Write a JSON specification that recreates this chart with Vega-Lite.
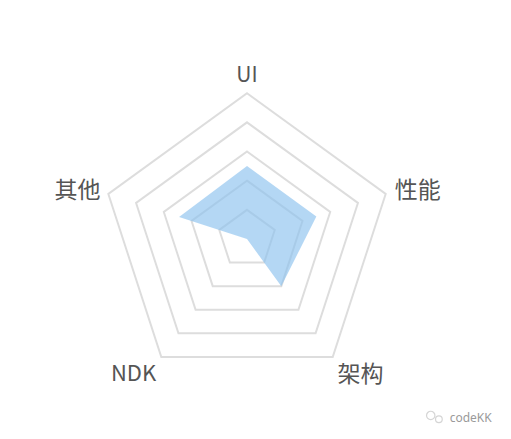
{
  "$schema": "https://vega.github.io/schema/vega-lite/v6.json",
  "width": 511,
  "height": 439,
  "autosize": "none",
  "padding": 0,
  "background": "white",
  "config": {"view": {"stroke": null}},
  "datasets": {
    "grid": [
      {"level": 1, "idx": 0}, {"level": 1, "idx": 1}, {"level": 1, "idx": 2}, {"level": 1, "idx": 3}, {"level": 1, "idx": 4},
      {"level": 2, "idx": 0}, {"level": 2, "idx": 1}, {"level": 2, "idx": 2}, {"level": 2, "idx": 3}, {"level": 2, "idx": 4},
      {"level": 3, "idx": 0}, {"level": 3, "idx": 1}, {"level": 3, "idx": 2}, {"level": 3, "idx": 3}, {"level": 3, "idx": 4},
      {"level": 4, "idx": 0}, {"level": 4, "idx": 1}, {"level": 4, "idx": 2}, {"level": 4, "idx": 3}, {"level": 4, "idx": 4},
      {"level": 5, "idx": 0}, {"level": 5, "idx": 1}, {"level": 5, "idx": 2}, {"level": 5, "idx": 3}, {"level": 5, "idx": 4}
    ],
    "scores": [
      {"axis": "UI", "idx": 0, "value": 2.5},
      {"axis": "性能", "idx": 1, "value": 2.5},
      {"axis": "架构", "idx": 2, "value": 2.0},
      {"axis": "NDK", "idx": 3, "value": 0.0},
      {"axis": "其他", "idx": 4, "value": 2.45}
    ],
    "mark": [{"label": "codeKK", "px": 6.95, "py": -6.15}],
    "icon": [{"px": 6.3, "py": -6.05, "s": 70}, {"px": 6.58, "py": -6.18, "s": 45}]
  },
  "encoding": {
    "x": {"field": "x", "type": "quantitative", "axis": null, "scale": {"domain": [-8.471, 9.053], "nice": false, "zero": false}},
    "y": {"field": "y", "type": "quantitative", "axis": null, "scale": {"domain": [-6.859, 8.196], "nice": false, "zero": false}}
  },
  "layer": [
    {
      "data": {"name": "grid"},
      "transform": [
        {"calculate": "PI/2 - datum.idx*2*PI/5", "as": "a"},
        {"calculate": "datum.level*cos(datum.a)", "as": "x"},
        {"calculate": "datum.level*sin(datum.a)", "as": "y"}
      ],
      "mark": {"type": "line", "interpolate": "linear-closed", "stroke": "#dddddd", "strokeWidth": 2},
      "encoding": {
        "detail": {"field": "level"},
        "order": {"field": "idx", "type": "quantitative"}
      }
    },
    {
      "data": {"name": "scores"},
      "transform": [
        {"calculate": "PI/2 - datum.idx*2*PI/5", "as": "a"},
        {"calculate": "datum.value*cos(datum.a)", "as": "x"},
        {"calculate": "datum.value*sin(datum.a)", "as": "y"}
      ],
      "mark": {"type": "line", "interpolate": "linear-closed", "fill": "#8cc2ee", "fillOpacity": 0.65, "strokeWidth": 0, "stroke": "#8cc2ee", "strokeOpacity": 0},
      "encoding": {
        "order": {"field": "idx", "type": "quantitative"}
      }
    },
    {
      "data": {"name": "scores"},
      "transform": [
        {"filter": "datum.axis === 'UI'"},
        {"calculate": "PI/2 - datum.idx*2*PI/5", "as": "a"},
        {"calculate": "5.4*cos(datum.a)", "as": "x"},
        {"calculate": "5.4*sin(datum.a)", "as": "y"}
      ],
      "mark": {"type": "text", "align": "center", "baseline": "alphabetic", "font": "Noto Sans CJK SC", "fontSize": 21, "color": "#555555"},
      "encoding": {"text": {"field": "axis"}}
    },
    {
      "data": {"name": "scores"},
      "transform": [
        {"filter": "datum.axis === '性能'"},
        {"calculate": "PI/2 - datum.idx*2*PI/5", "as": "a"},
        {"calculate": "5.33*cos(datum.a)", "as": "x"},
        {"calculate": "5.33*sin(datum.a)", "as": "y"}
      ],
      "mark": {"type": "text", "align": "left", "baseline": "middle", "font": "Noto Sans CJK SC", "fontSize": 23, "color": "#555555"},
      "encoding": {"text": {"field": "axis"}}
    },
    {
      "data": {"name": "scores"},
      "transform": [
        {"filter": "datum.axis === '其他'"},
        {"calculate": "PI/2 - datum.idx*2*PI/5", "as": "a"},
        {"calculate": "5.28*cos(datum.a)", "as": "x"},
        {"calculate": "5.28*sin(datum.a)", "as": "y"}
      ],
      "mark": {"type": "text", "align": "right", "baseline": "middle", "font": "Noto Sans CJK SC", "fontSize": 23, "color": "#555555"},
      "encoding": {"text": {"field": "axis"}}
    },
    {
      "data": {"name": "scores"},
      "transform": [
        {"filter": "datum.axis === '架构'"},
        {"calculate": "PI/2 - datum.idx*2*PI/5", "as": "a"},
        {"calculate": "5.28*cos(datum.a)", "as": "x"},
        {"calculate": "5.28*sin(datum.a)", "as": "y"}
      ],
      "mark": {"type": "text", "align": "left", "baseline": "top", "font": "Noto Sans CJK SC", "fontSize": 23, "color": "#555555"},
      "encoding": {"text": {"field": "axis"}}
    },
    {
      "data": {"name": "scores"},
      "transform": [
        {"filter": "datum.axis === 'NDK'"},
        {"calculate": "PI/2 - datum.idx*2*PI/5", "as": "a"},
        {"calculate": "5.3*cos(datum.a)", "as": "x"},
        {"calculate": "5.3*sin(datum.a)", "as": "y"}
      ],
      "mark": {"type": "text", "align": "right", "baseline": "top", "font": "Noto Sans CJK SC", "fontSize": 22, "color": "#555555"},
      "encoding": {"text": {"field": "axis"}}
    },
    {
      "data": {"name": "icon"},
      "transform": [
        {"calculate": "datum.px", "as": "x"},
        {"calculate": "datum.py", "as": "y"}
      ],
      "mark": {"type": "point", "shape": "circle", "filled": false, "stroke": "#c4c4c4", "strokeWidth": 1.2},
      "encoding": {"size": {"field": "s", "type": "quantitative", "scale": null}}
    },
    {
      "data": {"name": "mark"},
      "transform": [
        {"calculate": "datum.px", "as": "x"},
        {"calculate": "datum.py", "as": "y"}
      ],
      "mark": {"type": "text", "align": "left", "baseline": "middle", "font": "Noto Sans", "fontSize": 12, "color": "#9a9a9a"},
      "encoding": {"text": {"field": "label"}}
    }
  ]
}
